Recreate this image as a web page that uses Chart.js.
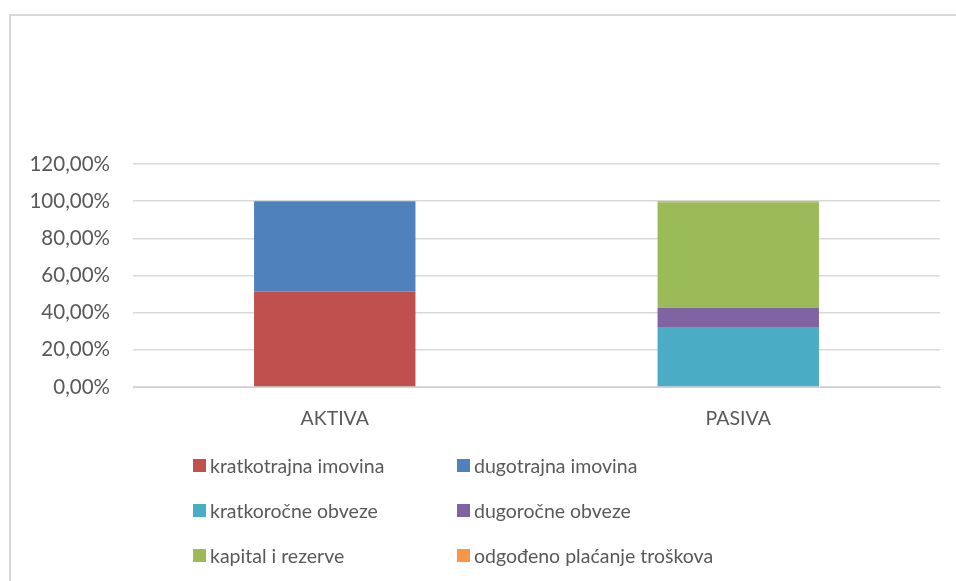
<!DOCTYPE html>
<html>
<head>
<meta charset="utf-8">
<script src="https://cdn.jsdelivr.net/npm/chart.js@4/dist/chart.umd.min.js"></script>
<style>
  html, body { margin: 0; padding: 0; background: #fff; overflow: hidden; }
  #wrap { position: relative; width: 956px; height: 581px; overflow: hidden; }
  canvas { position: absolute; left: 0; top: 0; }
  #legend { position: absolute; left: 193px; top: 454px; width: 600px;
    font-family: Lato, "Open Sans", sans-serif; font-size: 19.5px; color: #595959; }
  .item { position: absolute; display: flex; align-items: center; white-space: nowrap; }
  .sw { width: 13px; height: 13px; margin-right: 4px; }
</style>
</head>
<body>
<div id="wrap">
  <canvas id="chart" width="956" height="581"></canvas>
  <div id="legend"></div>
</div>
<script>
// ==============================
// Datos
// ==============================
const categorias = ['AKTIVA', 'PASIVA'];
const series = [
  'kratkotrajna imovina', 'dugotrajna imovina',
  'kratkoročne obveze', 'dugoročne obveze',
  'kapital i rezerve', 'odgođeno plaćanje troškova'
];
const kratkotrajnaImovina = [51.4, 0];
const dugotrajnaImovina = [48.6, 0];
const kratkorocneObveze = [0, 32.3];
const dugorocneObveze = [0, 10.3];
const kapitalIRezerve = [0, 56.8];
const odgodenoPlacanje = [0, 0.6];
const yTicks = [0, 20, 40, 60, 80, 100, 120];

const valores = [kratkotrajnaImovina, dugotrajnaImovina, kratkorocneObveze,
  dugorocneObveze, kapitalIRezerve, odgodenoPlacanje];
const colores = ['#C0504D', '#4F81BD', '#4BACC6', '#8064A2', '#9BBB59', '#F79646'];

// Marco del gráfico (solo bordes izquierdo y superior visibles)
const marco = {
  id: 'marco',
  beforeDraw(chart) {
    const ctx = chart.ctx;
    ctx.save();
    ctx.strokeStyle = '#d9d9d9';
    ctx.lineWidth = 2;
    ctx.beginPath();
    ctx.moveTo(10, chart.height);
    ctx.lineTo(10, 15);
    ctx.lineTo(chart.width, 15);
    ctx.stroke();
    ctx.restore();
  }
};

// ==============================
// Gráfica de barras apiladas
// ==============================
new Chart(document.getElementById('chart').getContext('2d'), {
  type: 'bar',
  data: {
    labels: categorias,
    datasets: series.map((name, i) => ({
      label: name,
      data: valores[i],
      backgroundColor: colores[i],
      borderWidth: 0,
      categoryPercentage: 1,
      barPercentage: 0.4
    }))
  },
  options: {
    responsive: false,
    animation: false,
    layout: { padding: { top: 164, right: 16, bottom: 144, left: 0 } },
    plugins: { legend: { display: false }, tooltip: { enabled: false } },
    scales: {
      x: {
        stacked: true,
        grid: { display: false, drawTicks: false },
        border: { display: true, color: '#d0d0d0', width: 1 },
        ticks: { color: '#595959', padding: 20, font: { family: 'Lato', size: 19.5 } },
        afterFit: s => { s.height = 50; }
      },
      y: {
        stacked: true,
        min: 0,
        max: 120,
        afterBuildTicks: s => { s.ticks = yTicks.map(v => ({ value: v })); },
        grid: { color: '#d9d9d9', lineWidth: 1.5, drawTicks: false },
        border: { display: false },
        ticks: {
          color: '#595959', padding: 23,
          font: { family: 'Lato', size: 20.5 },
          callback: v => v.toFixed(2).replace('.', ',') + '%'
        },
        afterFit: s => { s.width = 133; }
      }
    }
  },
  plugins: [marco]
});

// ==============================
// Leyenda en dos columnas
// ==============================
const legend = document.getElementById('legend');
series.forEach((name, i) => {
  const it = document.createElement('div');
  it.className = 'item';
  it.style.left = (i % 2 === 0 ? 0 : 264) + 'px';
  it.style.top = (Math.floor(i / 2) * 45) + 'px';
  it.innerHTML = '<span class="sw" style="background:' + colores[i] + '"></span>' + name;
  legend.appendChild(it);
});
</script>
</body>
</html>
